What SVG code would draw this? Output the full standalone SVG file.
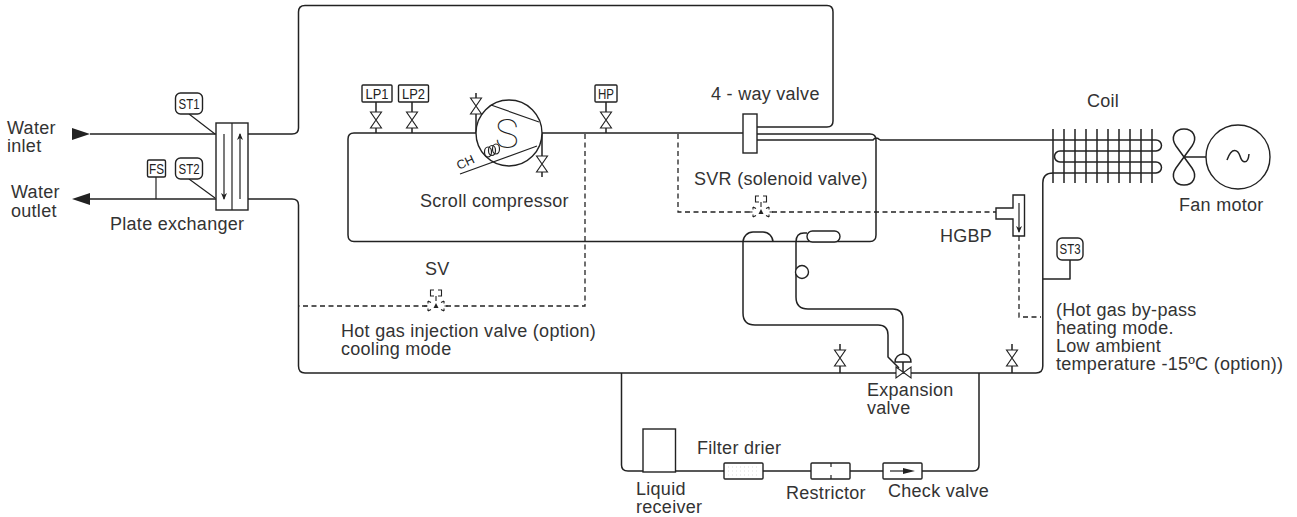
<svg xmlns="http://www.w3.org/2000/svg" width="1297" height="517" viewBox="0 0 1297 517">
<style>
text{font-family:"Liberation Sans",Arial,sans-serif;font-size:18px;letter-spacing:.28px;fill:#333}
.s{font-size:14.5px;letter-spacing:0;fill:#222;text-anchor:middle}
.p{fill:none;stroke:#222;stroke-width:1.5;stroke-linejoin:round}
.t{fill:none;stroke:#222;stroke-width:1.2}
.b{fill:#fff;stroke:#222;stroke-width:1.4}
.v{fill:#fff;stroke:#222;stroke-width:1.1}
.d{fill:none;stroke:#222;stroke-width:1.3;stroke-dasharray:5 3.500}
.f{fill:#222;stroke:none}
</style>
<defs>
<g id="vv"><path class="v" d="M-5.500 -8H5.500L-5.500 8H5.500Z"/></g>
<g id="sol"><path fill="none" stroke="#222" stroke-width="1.100" d="M-2 -16H-5.500V-10H-2M2 -16H5.500V-10H2M0 -10V-5M-12 0H-8.500M8.500 0H12M-8 -5V-2.500M-8 2.500V5M8 -5V-2.500M8 2.500V5M-8 -5L-5 -3.500M-8 5L-5 3.500M8 -5L5 -3.500M8 5L5 3.500"/><path class="f" d="M0 -3L2.500 2H-2.500Z"/></g>
<marker id="ah" markerWidth="8" markerHeight="10" refX="6" refY="3" orient="auto" markerUnits="userSpaceOnUse" viewBox="0 0 8 6"><path class="f" d="M0 0L7 3L0 6L2 3Z"/></marker>
</defs>
<g id="connectors">
<path class="p" d="M90 134H216M248 134H292Q298.500 134 298.500 128V12Q298.500 5.500 305 5.500H827Q833 5.500 833 12V121Q833 127 827 127H757"/>
<path class="p" d="M90 199H216M248 199H292Q298.500 199 298.500 205V366Q298.500 373 305 373H1036Q1042.800 373 1042.800 366V183Q1042.800 173 1053 173H1156A5.500 5.500 0 0 0 1156 162H1060A5.500 5.500 0 0 1 1060 151H1156A5.500 5.500 0 0 0 1156 140H880"/>
<path class="p" d="M476 133V114M476 98V93M542 133V156M542 172V177M376 128V133M376 102V112M412 128V133M412 102V112M606 128V133M606 102V112"/>
<path class="p" d="M354 133H476M542 133H743M354 133Q348 133 348 139V235Q348 241.500 354 241.500H870Q876 241.500 876 235V142"/>
<path class="p" d="M757 134H870Q876 134 876 140V142M757 140H873Q876 136 880 140"/>
<path class="p" d="M743 241.500V242A10 10 0 0 1 753 232H763A10 10 0 0 1 773 242M743 242V313Q743 325 755 325H878Q888 325 888 335V357L899 368"/>
<path class="p" d="M807 233H804Q796 233 796 242V297Q796 309 808 309H893Q903 309 903 320V354"/>
<path class="p" d="M621.500 373V465Q621.500 471 628 471H973Q979 471 979 465V373"/>
<path class="p" d="M840 373V366M840 350V344M1012 373V366M1012 350V344"/>
<path class="p" d="M1070 260V279H1043"/>
<path class="d" d="M585 134V306H445M427 306H299"/>
<path class="d" d="M678 134V212H750M772 212H996M1019 236V317H1041"/>
<path class="t" d="M189 114L215 134M189 179L215 198M156 177V199"/>
</g>
<g id="water-inlet"><path class="f" d="M72 128L90 134L72 140Z"/><text x="7" y="134">Water</text><text x="7" y="152">inlet</text></g>
<g id="water-outlet"><path class="f" d="M72 199L90 193V205Z"/><text x="11" y="198">Water</text><text x="11" y="217">outlet</text></g>
<g id="plate-exchanger"><rect class="b" x="216" y="123" width="32" height="87"/><path class="t" d="M232 123V210"/><path class="t" d="M224 134V199" marker-end="url(#ah)"/><path class="t" d="M240 199V134" marker-end="url(#ah)"/><text x="110" y="230">Plate exchanger</text></g>
<g id="ST1"><rect class="b" x="175.500" y="93" width="27" height="21" rx="5"/><text class="s" x="189" y="109" textLength="21" lengthAdjust="spacingAndGlyphs">ST1</text></g>
<g id="ST2"><rect class="b" x="175.500" y="158" width="27" height="21" rx="5"/><text class="s" x="189" y="174" textLength="21" lengthAdjust="spacingAndGlyphs">ST2</text></g>
<g id="FS"><rect class="b" x="147.500" y="160" width="18" height="17" rx="1.500"/><text class="s" x="156.500" y="174" textLength="15" lengthAdjust="spacingAndGlyphs">FS</text></g>
<g id="LP1"><rect class="b" x="362" y="85" width="30" height="17" rx="1"/><text class="s" x="377" y="99" textLength="23" lengthAdjust="spacingAndGlyphs">LP1</text><use href="#vv" x="376" y="120"/></g>
<g id="LP2"><rect class="b" x="398.500" y="85" width="30" height="17" rx="1"/><text class="s" x="413.500" y="99" textLength="23" lengthAdjust="spacingAndGlyphs">LP2</text><use href="#vv" x="412" y="120"/></g>
<g id="HP"><rect class="b" x="595" y="85" width="22" height="17" rx="1"/><text class="s" x="606" y="99" textLength="16" lengthAdjust="spacingAndGlyphs">HP</text><use href="#vv" x="606" y="120"/></g>
<g id="scroll-compressor">
<circle class="b" cx="509" cy="133" r="33"/>
<path class="t" d="M491 105L539 122M460 174L537 146"/>
<text x="507" y="148" text-anchor="middle" style="font-family:Roboto,sans-serif;font-size:40px;font-weight:100;fill:#222">S</text>
<ellipse class="t" cx="488" cy="152" rx="3.500" ry="5"/><ellipse class="t" cx="492" cy="150.500" rx="3.500" ry="5"/><ellipse class="t" cx="496" cy="149" rx="3.500" ry="5"/>
<text transform="translate(459 170) rotate(-25)" style="font-size:12.500px;letter-spacing:0;fill:#222">CH</text>
<use href="#vv" x="476" y="106"/><use href="#vv" x="542" y="164"/>
<text x="420" y="207">Scroll compressor</text>
</g>
<g id="four-way-valve"><rect class="b" x="743" y="114" width="14" height="39"/><text x="711" y="100">4 - way valve</text></g>
<g id="SVR"><use href="#sol" x="761" y="212"/><text x="694" y="185">SVR (solenoid valve)</text></g>
<g id="SV"><use href="#sol" x="436" y="306"/><text x="425" y="275">SV</text><text x="341" y="337">Hot gas injection valve (option)</text><text x="341" y="355">cooling mode</text></g>
<g id="HGBP"><path class="b" d="M1013 195H1024.500V236H1013V219H996V208H1013Z"/><path class="t" d="M1019 203V232" marker-end="url(#ah)"/><text x="940" y="242">HGBP</text><text x="1056" y="316">(Hot gas by-pass</text><text x="1056" y="334">heating mode.</text><text x="1056" y="352">Low ambient</text><text x="1056" y="370">temperature -15ºC (option))</text></g>
<g id="ST3"><rect class="b" x="1057" y="238" width="26" height="22" rx="5"/><text class="s" x="1070" y="254" textLength="21" lengthAdjust="spacingAndGlyphs">ST3</text></g>
<g id="coil"><path class="p" d="M1053 129V183M1064 129V183M1075 129V183M1086 129V183M1097 129V183M1108 129V183M1119 129V183M1130 129V183M1141 129V183M1152 129V183"/><text x="1087" y="107">Coil</text></g>
<g id="fan-motor"><path class="p" d="M1184 157L1176 146C1170 137 1175 129 1184 129C1193 129 1198 137 1192 146L1184 157L1176 168C1170 177 1175 185 1184 185C1193 185 1198 177 1192 168L1184 157H1206"/><circle class="b" cx="1238" cy="157" r="32"/><path class="p" d="M1227 160C1232 146 1238 150 1240 156C1242 163 1248 165 1249 154"/><text x="1179" y="211">Fan motor</text></g>
<g id="accumulator"><rect class="b" x="807" y="231" width="33" height="11" rx="5.500"/><circle class="b" cx="802" cy="272" r="6.500"/></g>
<g id="expansion-valve"><path class="b" d="M895 362A8 8 0 0 1 911 362Z"/><path class="p" d="M903 362V373"/><path class="v" d="M896 367L911 378V367L896 378Z"/><text x="867" y="396">Expansion</text><text x="867" y="414">valve</text></g>
<g id="service-valve-1"><use href="#vv" x="840" y="358"/></g>
<g id="service-valve-2"><use href="#vv" x="1012" y="358"/></g>
<g id="liquid-receiver"><rect class="b" x="643" y="429" width="32.500" height="43"/><text x="636" y="495">Liquid</text><text x="636" y="513">receiver</text></g>
<g id="filter-drier"><rect class="b" x="724" y="463" width="39" height="16" rx="1"/><path d="M728 467H760M728 471H760M728 475H760" stroke="#ddd" stroke-dasharray="1 3"/><text x="697" y="454">Filter drier</text></g>
<g id="restrictor"><rect class="b" x="811" y="463" width="39" height="16" rx="1"/><path class="t" d="M831 463V467M831 475V479"/><text x="786" y="499">Restrictor</text></g>
<g id="check-valve"><rect class="b" x="883" y="463" width="39" height="16" rx="1"/><path class="t" d="M890 471H905"/><path class="f" d="M903 468L915 471L903 474Z"/><text x="888" y="497">Check valve</text></g>
</svg>
